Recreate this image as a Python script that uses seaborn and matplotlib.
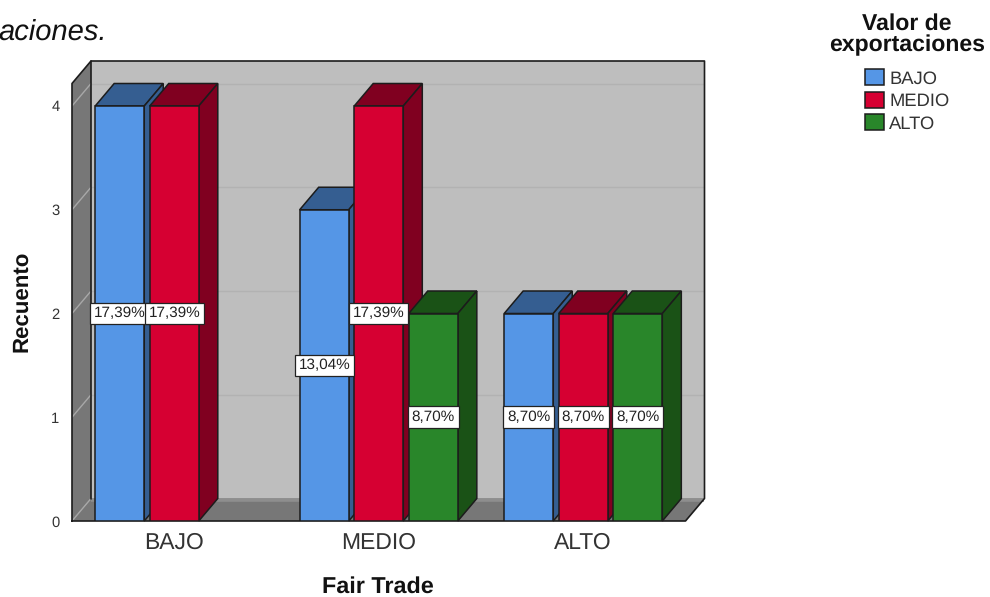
import matplotlib
matplotlib.use("Agg")
import matplotlib.pyplot as plt
from matplotlib.patches import Polygon
import pandas as pd
import seaborn as sns

# Cross-tabulated counts: Fair Trade level by export value level
fair_trade = ["BAJO", "BAJO", "MEDIO", "MEDIO", "MEDIO", "ALTO", "ALTO", "ALTO"]
export_value = ["BAJO", "MEDIO", "BAJO", "MEDIO", "ALTO", "BAJO", "MEDIO", "ALTO"]
counts = [4, 4, 3, 4, 2, 2, 2, 2]
levels = ["BAJO", "MEDIO", "ALTO"]
total_cases = 23
y_ticks = [0, 1, 2, 3, 4]

front_colors = ["#5596E6", "#D60032", "#29862A"]
dark_colors = {"#5596E6": "#355E91", "#D60032": "#800020", "#29862A": "#1A5216"}
outline = "#1c1c1c"

sns.set_theme(style="white")
plt.rcParams["font.family"] = ["Liberation Sans", "DejaVu Sans"]
plt.rcParams["text.hinting"] = "none"

df = pd.DataFrame({"fair": fair_trade, "value": export_value, "n": counts})

W, H = 990, 597
fig = plt.figure(figsize=(W / 100, H / 100), dpi=100)
ax = fig.add_axes([72 / W, 1 - 521 / H, (704 - 72) / W, (521 - 61) / H])

sns.barplot(data=df, x="fair", y="n", hue="value", order=levels, hue_order=levels,
            palette=front_colors, width=0.8, gap=0.1, saturation=1,
            edgecolor=outline, linewidth=1.1, ax=ax)
ax.set_xlim(-0.5, -0.5 + (704 - 72) / 204.5)
ax.set_ylim(0, (521 - 61) / 103.75)

# Drop the empty slot left for the category without cases
for patch in list(ax.patches):
    if patch.get_height() == 0:
        patch.remove()
bars = sorted(ax.patches, key=lambda p: p.get_x())

# Extrusion depth of the box, expressed in data units
dx = 19 / 204.5
dy = 22.5 / 103.75
x0, x1 = -0.5, 2.5
y_top = ax.get_ylim()[1] - dy


def poly(points, face, edge=outline, lw=1.1, z=1):
    ax.add_patch(Polygon(points, closed=True, facecolor=face, edgecolor=edge,
                         linewidth=lw, zorder=z, clip_on=False))


def edge_line(xs, ys, z=1.5):
    ax.plot(xs, ys, color=outline, lw=1.2, zorder=z, clip_on=False, solid_capstyle="round")


# Walls and floor, faces first and the box outline afterwards
poly([(x0 + dx, dy), (x1 + dx, dy), (x1 + dx, y_top + dy), (x0 + dx, y_top + dy)], "#BEBEBE", edge="none", z=0.5)
poly([(x0, 0), (x0 + dx, dy), (x0 + dx, y_top + dy), (x0, y_top)], "#777777", edge="none", z=0.6)
poly([(x0, 0), (x1, 0), (x1 + dx, dy), (x0 + dx, dy)], "#777777", edge="none", z=0.6)
ax.plot([x0 + dx, x1 + dx], [dy - 0.015, dy - 0.015], color="#8E8E8E", lw=2.6, zorder=0.7,
        solid_capstyle="butt")

# Gridlines run across the back wall and down the side wall
for tick in y_ticks[1:]:
    ax.plot([x0 + dx, x1 + dx], [tick + dy, tick + dy], color="#B2B2B2", lw=1.0, zorder=0.7)
for tick in y_ticks:
    ax.plot([x0, x0 + dx], [tick, tick + dy], color="#A8A8A8", lw=1.0, zorder=0.7)

edge_line([x0, x0, x0 + dx, x1 + dx, x1 + dx, x1, x0],
          [0, y_top, y_top + dy, y_top + dy, dy, 0, 0])
edge_line([x0 + dx, x0 + dx], [dy, y_top + dy])

# Give each bar its top and side faces, painting from left to right
z = 2.0
for bar in bars:
    left, width, height = bar.get_x(), bar.get_width(), bar.get_height()
    right = left + width
    shade = dark_colors[matplotlib.colors.to_hex(bar.get_facecolor()).upper()]
    poly([(left, height), (right, height), (right + dx, height + dy), (left + dx, height + dy)], shade, z=z)
    poly([(right, 0), (right + dx, dy), (right + dx, height + dy), (right, height)], shade, z=z)
    bar.set_zorder(z + 0.1)
    z += 1

# Percentage of all cases, centred on each bar
for bar in bars:
    height = bar.get_height()
    pct = f"{height / total_cases * 100:.2f}%".replace(".", ",")
    ax.text(bar.get_x() + bar.get_width() / 2, height / 2, pct, ha="center", va="center",
            fontsize=11, color="#222222", zorder=50,
            bbox=dict(boxstyle="square,pad=0.25", facecolor="white", edgecolor="#222222", linewidth=0.9))

for spine in ax.spines.values():
    spine.set_visible(False)
ax.set_xticks(range(len(levels)), levels)
ax.set_yticks(y_ticks)
ax.tick_params(axis="x", length=0, pad=8, labelsize=16.5, labelcolor="#333333")
ax.tick_params(axis="y", length=0, pad=9, labelsize=10.6, labelcolor="#333333")
ax.set_xlabel("")
ax.set_ylabel("")
fig.text(378 / W, 1 - 587 / H, "Fair Trade", ha="center", va="center",
         fontsize=16.8, fontweight="bold", color="#111111")
fig.text(22 / W, 1 - 301 / H, "Recuento", ha="center", va="center", rotation=90,
         fontsize=16, fontweight="bold", color="#111111")
fig.text(107 / W, 1 - 32 / H, "aciones.", ha="right", va="center",
         fontsize=21, style="italic", color="#111111")

sns.move_legend(ax, loc="upper left", bbox_to_anchor=(829 / W, 1 - 13 / H),
                bbox_transform=fig.transFigure, title="Valor de\nexportaciones", frameon=False,
                fontsize=13.2, handlelength=1.04, handleheight=0.98, handletextpad=0.3,
                labelspacing=0.24, borderpad=0, borderaxespad=0,
                title_fontproperties={"weight": "bold", "size": 16.6})
legend = ax.get_legend()
legend.get_title().set_linespacing(1.0)
legend.get_title().set_multialignment("center")
legend.get_title().set_color("#111111")
legend.set_zorder(60)
legend._legend_box.sep = 9.5
for label in legend.get_texts():
    label.set_color("#333333")

fig.savefig("out.png", dpi=100)
